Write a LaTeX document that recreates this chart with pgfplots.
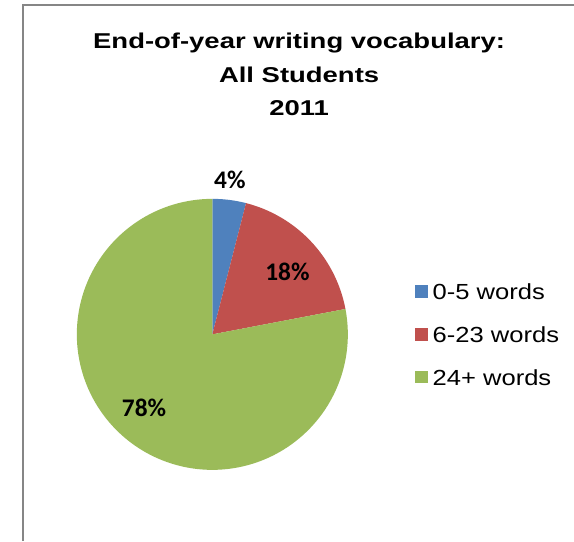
\documentclass[border=0pt]{standalone}
\usepackage{pgfplots}
\usepackage{pgfplotstable}
\pgfplotsset{compat=1.18}
\usepackage{fontspec}
\setmainfont{Liberation Sans}
\newfontfamily\titlefont[FakeStretch=1.28]{Liberation Sans}
\newfontfamily\legfont[FakeStretch=1.17]{Liberation Sans}
\newfontfamily\pctfont{Carlito}
\definecolor{pieblue}{HTML}{4F81BD}
\definecolor{piered}{HTML}{C0504D}
\definecolor{piegreen}{HTML}{9BBB59}
\definecolor{frame}{RGB}{134,134,134}

\pgfplotstableread{
label value
0-5 4
6-23 18
24+ 78
}\piedata

\begin{document}
\pgfplotstablegetelem{0}{value}\of\piedata \let\va\pgfplotsretval
\pgfplotstablegetelem{1}{value}\of\piedata \let\vb\pgfplotsretval
\pgfplotstablegetelem{2}{value}\of\piedata \let\vc\pgfplotsretval
\pgfmathsetmacro\aS{90}
\pgfmathsetmacro\aA{90-3.6*\va}
\pgfmathsetmacro\aB{\aA-3.6*\vb}
\pgfmathsetmacro\aC{\aB-3.6*\vc}
\begin{tikzpicture}[x=0.75pt,y=0.75pt]
\useasboundingbox (0,0) rectangle (574,555);
\fill[white] (0,0) rectangle (574,555);
\draw[frame, line width=1.5pt] (9,0) -- (9,550) -- (574,550);
% title
\node[anchor=base, inner sep=0pt, font=\titlefont\bfseries\fontsize{16.5}{20}\selectfont] at (292,505) {End-of-year writing vocabulary:};
\node[anchor=base, inner sep=0pt, font=\titlefont\bfseries\fontsize{16.5}{20}\selectfont] at (292,470) {All Students};
\node[anchor=base, inner sep=0pt, font=\titlefont\bfseries\fontsize{16.5}{20}\selectfont] at (292,437) {2011};
\begin{axis}[
  scale only axis,
  width=208.5pt, height=208.5pt,
  xmin=-1, xmax=1, ymin=-1, ymax=1,
  hide axis,
  anchor=origin,
  at={(152.25pt,159pt)},
  clip=false,
  legend style={draw=none, fill=none, inner sep=0pt, at={(axis description cs:1.245,0.5)}, anchor=west,
    row sep=21pt, column sep=3.5pt,
    font=\legfont\fontsize{16.8}{20}\selectfont,
    nodes={inner sep=0pt, text height=12pt, text depth=0pt}},
  legend cell align=left,
  legend image code/.code={\fill[#1] (0pt,-4.8pt) rectangle (10.5pt,4.7pt);},
]
\addplot[fill=pieblue, draw=none, domain=\aA:\aS, samples=30, variable=\t] ({cos(\t)},{sin(\t)}) -- (axis cs:0,0) -- cycle;
\addlegendentry{0-5 words}
\addplot[fill=piered, draw=none, domain=\aB:\aA, samples=60, variable=\t] ({cos(\t)},{sin(\t)}) -- (axis cs:0,0) -- cycle;
\addlegendentry{6-23 words}
\addplot[fill=piegreen, draw=none, domain=\aC:\aB, samples=200, variable=\t] ({cos(\t)},{sin(\t)}) -- (axis cs:0,0) -- cycle;
\addlegendentry{24+ words}
\node[anchor=base, inner sep=0pt, font=\pctfont\bfseries\fontsize{19.5}{22}\selectfont] at (axis cs:0.129,1.079) {4\%};
\node[anchor=base, inner sep=0pt, font=\pctfont\bfseries\fontsize{19.5}{22}\selectfont] at (axis cs:0.554,0.396) {18\%};
\node[anchor=base, inner sep=0pt, font=\pctfont\bfseries\fontsize{19.5}{22}\selectfont] at (axis cs:-0.504,-0.604) {78\%};
\end{axis}
\end{tikzpicture}
\end{document}
